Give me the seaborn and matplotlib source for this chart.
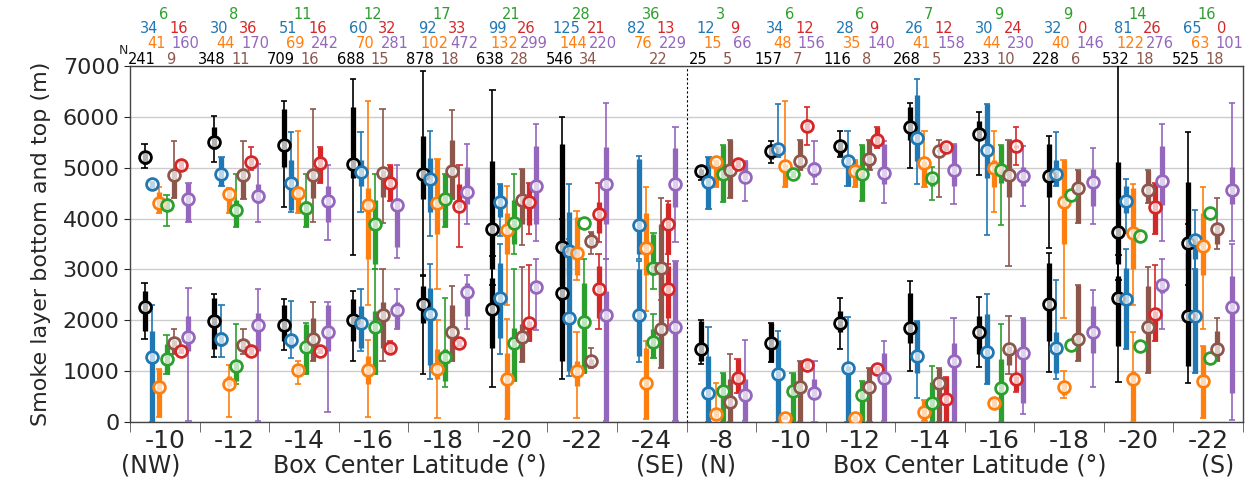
import matplotlib
matplotlib.use("Agg")
import matplotlib.pyplot as plt
import numpy as np
import pandas as pd
import seaborn as sns

# ---------------- data ----------------
group_labels = ["-10", "-12", "-14", "-16", "-18", "-20", "-22", "-24",
                "-8", "-10", "-12", "-14", "-16", "-18", "-20", "-22"]
series_names = ["black", "blue", "orange", "green", "brown", "red", "purple"]
series_colors = ["black", "#1f77b4", "#ff7f0e", "#2ca02c", "#8c564b", "#d62728", "#9467bd"]

# counts per series (16 groups)
n_black = [241, 348, 709, 688, 878, 638, 546, None, 25, 157, 116, 268, 233, 228, 532, 525]
n_blue = [34, 30, 51, 60, 92, 99, 125, 82, 12, 34, 28, 26, 30, 32, 81, 65]
n_orange = [41, 44, 69, 70, 102, 132, 144, 76, 15, 48, 35, 41, 44, 40, 122, 63]
n_green = [6, 8, 11, 12, 17, 21, 28, 36, 3, 6, 6, 7, 9, 9, 14, 16]
n_brown = [9, 11, 16, 15, 18, 28, 34, 22, 5, 7, 8, 5, 10, 6, 18, 18]
n_red = [16, 36, 16, 32, 33, 26, 21, 13, 9, 12, 9, 12, 24, 0, 26, 0]
n_purple = [160, 170, 242, 281, 472, 299, 220, 229, 66, 156, 140, 158, 230, 146, 276, 101]

# (mean, box low, box high, whisker low, whisker high) in metres; None = not drawn
black_top = [(5210, 5080, 5310, 5000, 5470), (5500, 5370, 5800, 5110, 6010),
             (5450, 5010, 6150, 4230, 6320), (5080, 4790, 6190, 3280, 6750),
             (4870, 4390, 5630, 2900, 6900), (3790, 3000, 5140, 2700, 6530),
             (3450, 2700, 5470, 2400, 6000), None,
             (4930, 4850, 4980, 4750, 5030), (5320, 5180, 5420, 5090, 5520),
             (5420, 5240, 5500, 5210, 5730), (5800, 5540, 6190, 5000, 6280),
             (5670, 5550, 5910, 4860, 6090), (4830, 4430, 5470, 3420, 5630),
             (3730, 3100, 5120, 2800, 7100), (3510, 3000, 4720, 2700, 5710)]
blue_top = [(4670, 4610, 4720, 4610, 4720), (4880, 4650, 5210, 4650, 5210),
            (4700, 4170, 5160, 4130, 5700), (4920, 4650, 5160, 4130, 5700),
            (4770, 4130, 5190, 3660, 5720), (4320, 4040, 4670, 3660, 4670),
            (3360, 2900, 4130, 2500, 4670), (3870, 3300, 5180, 3200, 5230),
            (4720, 4180, 5210, 4180, 5210), (5370, 5210, 5420, 5210, 6250),
            (5140, 4650, 5210, 4650, 5720), (5590, 5140, 6420, 4670, 6740),
            (5350, 4800, 6250, 3680, 6250), (4880, 4650, 5160, 4650, 5710),
            (4350, 4100, 4650, 3710, 4770), (3570, 3200, 3650, 3000, 4170)]
orange_top = [(4310, 4110, 4520, 4100, 4620), (4490, 4100, 4610, 4100, 4610),
              (4500, 4100, 4610, 4100, 5720), (4260, 3200, 4610, 2310, 6320),
              (4300, 3700, 5180, 2610, 5180), (3770, 3300, 4100, 2310, 4650),
              (3330, 2900, 4040, 2800, 4150), (3430, 2900, 4100, 2180, 4620),
              (5120, 4620, 5140, 4620, 5140), (5030, 4620, 5080, 4620, 6320),
              (4940, 4620, 5160, 4620, 5160), (5090, 4620, 5140, 4620, 5730),
              (5000, 4620, 5160, 4130, 5720), (4330, 3500, 5160, 2050, 5160),
              (3720, 3000, 4600, 2310, 4680), (3470, 2900, 4100, 1820, 4620)]
green_top = [(4260, 4150, 4370, 3860, 4460), (4170, 3840, 4370, 3840, 4870),
             (4210, 3840, 4340, 3840, 4870), (3900, 3100, 4370, 3000, 4880),
             (4390, 3840, 4880, 3840, 4880), (3920, 3500, 4360, 3300, 4880),
             (3905, None, None, None, None), (3030, 2900, 3700, 2620, 3710),
             (4870, 4330, 5440, 4330, 5440), (4870, 4820, 4920, 4820, 4920),
             (4880, 4350, 5440, 4350, 5440), (4800, 4650, 4850, 4360, 5010),
             (4960, 4700, 5440, 3870, 5440), (4470, None, None, None, None),
             (3660, None, None, None, None), (4100, None, None, None, None)]
brown_top = [(4850, 4410, 4960, 4410, 5520), (4860, 4390, 4960, 4390, 5520),
             (4850, 4410, 4950, 3940, 6150), (4900, 4430, 4960, 3920, 6150),
             (4940, 4390, 5540, 4390, 6130), (4360, 3900, 4970, 3480, 4970),
             (3550, 3460, 3740, 3300, 3740), (3030, 2500, 3900, 2400, 4410),
             (4960, 4410, 5550, 4410, 5550), (5130, 4960, 5550, 4960, 5550),
             (5180, 4960, 5550, 4960, 5550), (5330, 5300, 5370, 4430, 5550),
             (4850, 4430, 5550, 3070, 5550), (4600, 3920, 4960, 3920, 4960),
             (4560, 4300, 4960, 4300, 4960), (3790, 3500, 3900, 3400, 4410)]
red_top = [(5050, 4970, 5120, 4970, 5120), (5120, 5030, 5200, 4950, 5400),
           (5090, 4690, 5400, 4690, 5400), (4690, 4350, 5050, 4350, 5050),
           (4250, 4200, 4670, 3450, 5060), (4330, 3870, 4690, 3700, 4690),
           (4090, 3710, 4330, 3530, 4690), (3890, 3300, 4300, 3100, 4350),
           (5080, 5010, 5140, 5010, 5140), (5830, 5700, 5890, 5450, 6190),
           (5540, 5390, 5800, 5390, 5800), (5400, 5350, 5440, 5350, 5440),
           (5420, 5380, 5450, 5050, 5800), None,
           (4230, 3700, 4690, 3700, 4690), None]
purple_top = [(4390, 3940, 4700, 3940, 4700), (4450, 4310, 4670, 3940, 5080),
              (4350, 3940, 4650, 3580, 5060), (4260, 3450, 4400, 3230, 5050),
              (4520, 4280, 5010, 3890, 5460), (4640, 3900, 5420, 3550, 5860),
              (4670, 3900, 5400, 3200, 6270), (4670, 4230, 5390, 3530, 5800),
              (4820, 4750, 5140, 4340, 5140), (4970, 4820, 5110, 4670, 5520),
              (4900, 4670, 5470, 4300, 5520), (4950, 4650, 5460, 4280, 5470),
              (4830, 4640, 5010, 4250, 5420), (4710, 4250, 4980, 3890, 5390),
              (4730, 4260, 5420, 3560, 5860), (4570, 4280, 5010, 3550, 6280)]

black_bot = [(2260, 1790, 2570, 1640, 2740), (1990, 1430, 2440, 1280, 2520),
             (1910, 1590, 2310, 1410, 2420), (2000, 1590, 2410, 1200, 2570),
             (2330, 1950, 2670, 940, 2880), (2230, 1460, 2840, 680, 3260),
             (2540, 1200, 4000, 840, 4000), None,
             (1430, 1200, 1990, 1150, 2000), (1560, 1170, 1950, 1170, 1950),
             (1940, 1760, 2180, 1430, 2440), (1850, 1560, 2540, 1000, 2770),
             (1760, 1330, 2080, 1090, 2460), (2330, 1590, 3130, 980, 3330),
             (2430, 1490, 2870, 790, 3280), (2080, 1100, 3330, 760, 3900)]
blue_bot = [(1280, 0, 1790, 0, 2310), (1640, 1490, 1760, 1280, 2310),
            (1610, 1460, 1690, 1260, 2380), (1950, 1460, 2280, 1400, 2610),
            (2120, 1130, 2640, 850, 3100), (2430, 1660, 3130, 1330, 3500),
            (2050, 1000, 3390, 900, 3600), (2100, 1300, 3000, 1170, 3160),
            (580, 0, 1300, 0, 1870), (950, 0, 1620, 0, 1790),
            (1070, 0, 1100, 0, 2070), (1300, 960, 1990, 480, 1990),
            (1380, 740, 2120, 740, 2520), (1460, 970, 1770, 840, 2800),
            (2410, 1430, 3030, 1430, 3400), (2080, 970, 3000, 970, 3500)]
orange_bot = [(690, 90, 1040, 90, 1040), (740, 710, 900, 90, 1130),
              (1020, 940, 1100, 740, 1200), (1020, 740, 1300, 90, 1620),
              (1050, 840, 1430, 70, 2000), (840, 50, 1360, 50, 2020),
              (1000, 710, 1200, 70, 1760), (760, 50, 1460, 50, 1600),
              (160, 90, 250, 50, 760), (85, 50, 120, 50, 120),
              (70, 20, 120, 20, 120), (200, 20, 440, 20, 440),
              (380, 250, 480, 250, 480), (680, 540, 770, 480, 1000),
              (850, 0, 1000, 0, 1770), (810, 70, 1490, 70, 1490)]
green_bot = [(1230, 940, 1530, 940, 1720), (1100, 810, 1200, 740, 1920),
             (1470, 940, 1920, 940, 1950), (1870, 940, 2180, 940, 3000),
             (1280, 810, 1430, 680, 2430), (1560, 810, 1850, 810, 3000),
             (1970, 970, 2740, 970, 3200), (1570, 1260, 1820, 1260, 2120),
             (600, 0, 970, 0, 970), (610, 0, 970, 0, 970),
             (530, 0, 810, 0, 810), (370, 0, 790, 0, 1100),
             (660, 0, 1230, 0, 1930), (1510, None, None, None, None),
             (1490, None, None, None, None), (1260, None, None, None, None)]
brown_bot = [(1550, 1330, 1620, 1330, 1820), (1510, 1400, 1620, 1330, 1820),
             (1640, 1200, 2050, 1200, 2350), (2100, 1460, 2350, 1200, 3000),
             (1760, 1200, 2310, 1200, 2670), (1680, 1170, 1920, 1170, 3050),
             (1200, 1130, 1230, 1070, 1460), (1820, 1070, 2900, 1070, 3060),
             (400, 0, 840, 0, 1330), (690, 0, 1200, 0, 1200),
             (680, 0, 1070, 0, 1070), (760, 0, 1070, 0, 1070),
             (1430, 1130, 1490, 940, 2080), (1640, 1200, 2690, 1200, 2690),
             (1870, 970, 2670, 960, 3050), (1440, 1200, 1790, 1200, 2050)]
red_bot = [(1400, 1350, 1440, 1350, 1440), (1400, 1340, 1450, 1340, 1450),
           (1400, 1350, 1440, 1350, 1440), (1460, 1360, 1590, 1360, 1590),
           (1550, 1490, 1590, 1490, 1590), (1940, 1590, 1990, 1590, 3080),
           (2610, 2050, 3070, 1820, 3310), (2620, 2050, 3070, 1820, 3310),
           (870, 580, 1230, 580, 1230), (1130, 1070, 1200, 1070, 1200),
           (1040, 980, 1090, 980, 1090), (450, 0, 880, 0, 880),
           (850, 600, 900, 590, 1400), None,
           (2130, 1590, 2180, 1590, 3080), None]
purple_bot = [(1680, 1400, 2080, 20, 2630), (1910, 1400, 2150, 20, 2620),
              (1770, 1400, 2310, 200, 2350), (2210, 1820, 2350, 1820, 2610),
              (2560, 2080, 2740, 1820, 2900), (2660, 2540, 2770, 1800, 3210),
              (2100, 20, 2570, 20, 3200), (1870, 20, 3160, 20, 3160),
              (530, 20, 840, 20, 1610), (580, 450, 840, 0, 1200),
              (860, 20, 1360, 20, 1590), (1200, 0, 1560, 0, 2050),
              (1350, 370, 2050, 150, 2050), (1770, 1360, 2280, 690, 2590),
              (2690, 2540, 2770, 1820, 3210), (2260, 580, 2870, 40, 3500)]

tops = [black_top, blue_top, orange_top, green_top, brown_top, red_top, purple_top]
bots = [black_bot, blue_bot, orange_bot, green_bot, brown_bot, red_bot, purple_bot]
counts = [n_black, n_blue, n_orange, n_green, n_brown, n_red, n_purple]

# ---------------- plot ----------------
sns.set_style("ticks")
plt.rcParams["font.family"] = ["DejaVu Sans"]

fig = plt.figure(figsize=(12.52, 4.84), dpi=100)
ax = fig.add_axes([130 / 1252, 62 / 484, 1113 / 1252, 356 / 484])

offsets = [-0.29, -0.185, -0.08, 0.025, 0.13, 0.235, 0.34]
cap = 0.045

for si, col in enumerate(series_colors):
    for layer in (tops[si], bots[si]):
        rows = []
        for gi, d in enumerate(layer):
            if d is None:
                continue
            mean, blo, bhi, wlo, whi = d
            x = gi + offsets[si]
            if wlo is not None:
                ax.vlines(x, wlo, whi, color=col, lw=1.2, zorder=3)
                ax.hlines([wlo, whi], x - cap, x + cap, color=col, lw=1.2, zorder=3)
            if blo is not None:
                ax.vlines(x, blo, bhi, color=col, lw=3.8, zorder=3)
            rows.append({"x": x, "y": mean})
        df = pd.DataFrame(rows)
        sns.scatterplot(data=df, x="x", y="y", ax=ax, marker="o", s=72,
                        facecolor=(1, 1, 1, 0.7), edgecolor=col,
                        linewidth=2.0, zorder=5, legend=False)

ax.set_xlim(-0.5, 15.5)
ax.set_ylim(0, 7000)
ax.set_yticks(np.arange(0, 7001, 1000))
ax.tick_params(axis="y", labelsize=16, length=4)
ax.set_xticks(np.arange(16))
ax.set_xticklabels(group_labels, fontsize=18)
ax.tick_params(axis="x", length=0, pad=5)
ax.set_xticks(np.arange(-0.5, 16, 1), minor=True)
ax.tick_params(axis="x", which="minor", length=7, color="#555555")
ax.set_xlabel("")
ax.set_ylabel("Smoke layer bottom and top (m)", fontsize=16, labelpad=8)
ax.yaxis.grid(True, color="#cccccc", lw=1)
ax.set_axisbelow(True)
for s in ax.spines.values():
    s.set_visible(True)
    s.set_color("#444444")
    s.set_linewidth(1.0)
ax.axvline(7.5, color="black", ls=(0, (2, 2)), lw=0.8, zorder=2)

# counts above the axes
row_off = [5, 27, 16.5, 37, 5, 27, 16.5]
for si, col in enumerate(series_colors):
    for gi, n in enumerate(counts[si]):
        if n is None:
            continue
        ax.annotate(str(n), xy=(gi + offsets[si] - 0.04, 1), xycoords=("data", "axes fraction"),
                    xytext=(0, row_off[si]), textcoords="offset points",
                    ha="center", va="center", fontsize=10.5, color=col,
                    annotation_clip=False)
ax.annotate("N", xy=(-0.5, 1), xycoords=("data", "axes fraction"),
            xytext=(-1, 11), textcoords="offset points", ha="right", va="center",
            fontsize=9, annotation_clip=False)

# second row of x labels
for txt, px in [("(NW)", 151), ("Box Center Latitude (°)", 410), ("(SE)", 660),
                ("(N)", 718), ("Box Center Latitude (°)", 970), ("(S)", 1218)]:
    fig.text(px / 1252, 1 - 466 / 484, txt, ha="center", va="center", fontsize=17)

fig.savefig("out.png", dpi=100)
